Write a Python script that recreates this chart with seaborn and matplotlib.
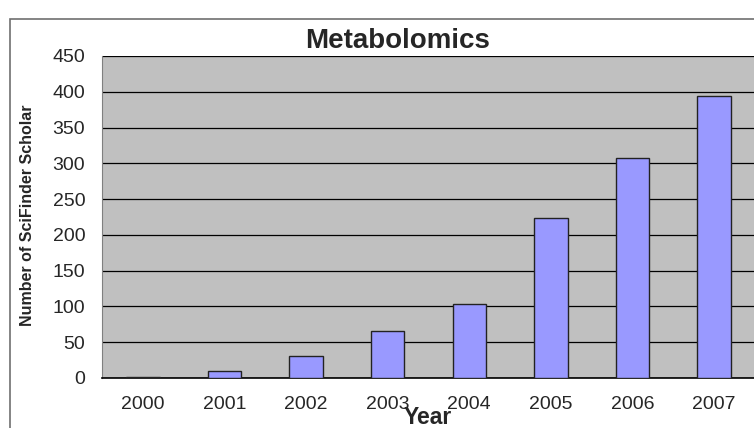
import numpy as np
import pandas as pd
import matplotlib
matplotlib.use("Agg")
import matplotlib.pyplot as plt
import seaborn as sns
from matplotlib.patches import Rectangle

# Data
years = ["2000", "2001", "2002", "2003", "2004", "2005", "2006", "2007"]
counts = [1, 10, 31, 66, 103, 224, 307, 394]
y_ticks = [0, 50, 100, 150, 200, 250, 300, 350, 400, 450]

df = pd.DataFrame({"Year": years, "Count": counts})

sns.set_style("white")
plt.rcParams["font.family"] = ["Liberation Sans", "DejaVu Sans"]

fig = plt.figure(figsize=(7.54, 4.28), dpi=100)
ax = fig.add_axes([102 / 754, 1 - 378 / 428, 653 / 754, (378 - 56) / 428])

ax.set_facecolor("#C0C0C0")
sns.barplot(data=df, x="Year", y="Count", color="#9999FF", saturation=1,
            width=0.41, edgecolor="#222222", linewidth=1.0, ax=ax, zorder=3)

ax.set_ylim(0, 450)
ax.set_xlim(-0.5, len(years) - 0.5)
ax.set_yticks(y_ticks)
ax.set_yticklabels([str(t) for t in y_ticks], fontsize=14)
ax.yaxis.grid(True, color="black", linewidth=0.9, zorder=1)
ax.set_axisbelow(True)

# x ticks at category boundaries, labels at centers
ax.set_xticks(np.arange(len(years)))
ax.set_xticklabels(years, fontsize=14)
ax.set_xticks(np.arange(len(years) + 1) - 0.5, minor=True)
ax.tick_params(axis="x", which="major", length=0, pad=13)
ax.tick_params(axis="x", which="minor", length=5, width=1, color="#555555", direction="out")
ax.tick_params(axis="y", length=6, width=1, color="#555555", direction="out", pad=6)

for side in ["top", "right"]:
    ax.spines[side].set_visible(False)
ax.spines["left"].set_color("#808080")
ax.spines["bottom"].set_color("black")
ax.spines["bottom"].set_linewidth(1.2)

ax.set_xlabel("")
ax.set_ylabel("")
fig.text(428 / 754, 1 - 417 / 428, "Year", fontsize=16.5, fontweight="bold",
         ha="center", va="center")
fig.text(28 / 754, 1 - 215 / 428, "Number of SciFinder Scholar", fontsize=11.5,
         fontweight="bold", rotation=90, ha="center", va="center")
fig.text(398 / 754, 1 - 41 / 428, "Metabolomics", fontsize=20, fontweight="bold",
         ha="center", va="center")

# outer chart frame (cut off at right and bottom)
fig.patches.append(Rectangle((10 / 754, -0.1), 1.2, 1 - 19 / 428 + 0.1,
                             transform=fig.transFigure, fill=False,
                             edgecolor="#707070", linewidth=1.2))

fig.savefig("out.png", dpi=100)
